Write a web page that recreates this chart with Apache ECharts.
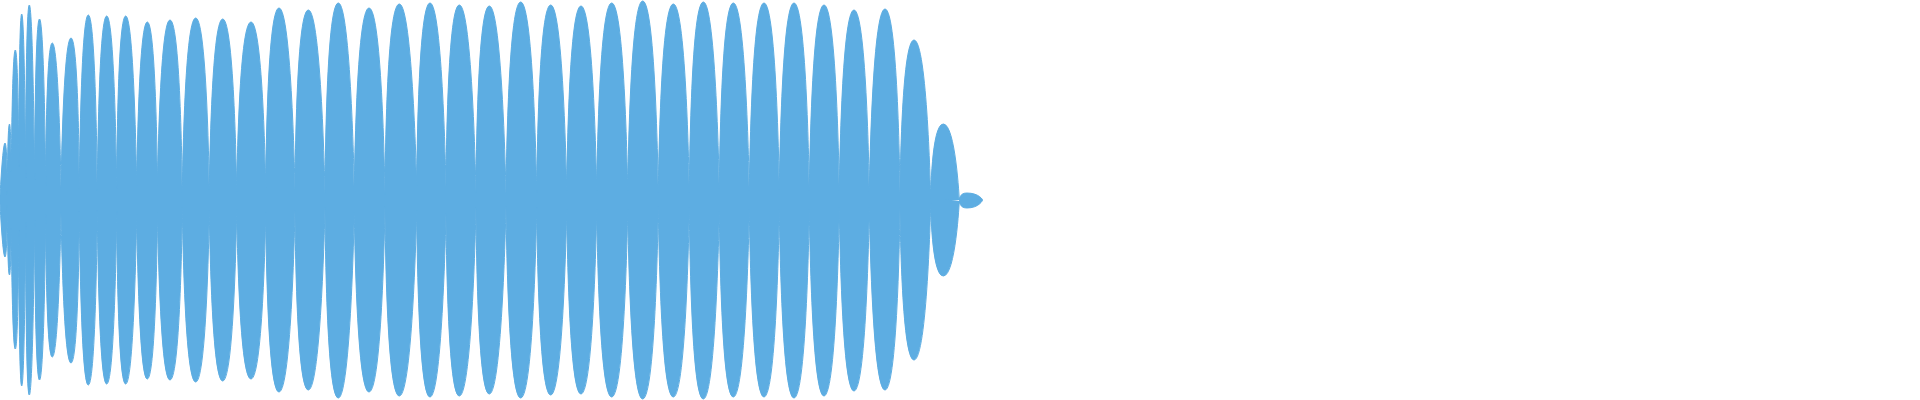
<!DOCTYPE html>
<html>
<head>
<meta charset="utf-8">
<script src="https://cdn.jsdelivr.net/npm/echarts@6/dist/echarts.min.js"></script>
<style>
html,body{margin:0;padding:0;background:#ffffff;}
#chart{width:1920px;height:400px;}
</style>
</head>
<body>
<div id="chart"></div>
<script>
// Boundaries (near-silent points) between the lobes of the waveform envelope
const pinchX = [0, 7.3, 11.3, 18.7, 25.6, 34.6, 45.7, 61, 79.3, 97.3, 116.7, 136.7, 157.5, 182.3, 209.3, 236.7, 265.7, 295, 325, 354.3, 385, 416.7, 446, 476, 506, 536.7, 566.7, 596.7, 627.7, 658.3, 689.3, 719.3, 749.3, 779.3, 809.3, 839.3, 869.3, 900, 930.7, 959.3, 982.7];
// Position of each lobe's peak
const peakX = [5, 9.5, 15.3, 21.7, 29.3, 39.5, 52.3, 71, 88.3, 106.7, 125.7, 147.3, 170, 195.7, 222.7, 251, 279, 308.3, 338.3, 369, 399.3, 430, 459.3, 489.3, 520.7, 550.7, 581, 611.7, 642.7, 673.3, 703.3, 733.3, 764, 794, 824, 854, 885, 914, 943.3, 966.7];
// Upper envelope: peak values and values at the boundaries
const upperPeak = [57, 76, 150, 186, 195, 181, 157, 162, 185, 184, 184, 178, 180, 182, 181, 178, 192, 190, 197, 192, 196, 197, 195, 194, 198, 195, 194, 197, 199, 196, 198, 197, 197, 197, 195, 190, 191, 160, 76, 7];
const upperFloor = [3, 5, 28, 33, 22, 20, 14, 12, 11, 9, 11, 14, 14, 7, 10, 8, 12, 10, 7, 13, 5, 14, 13, 7, 7, 7, 9, 9, 9, 7, 7, 11, 9, 10, 9, 9, 8, 6, 1, 0, 0];
// Lower envelope: peak values and values at the boundaries
const lowerPeak = [-57, -75, -149, -186, -195, -180, -157, -163, -185, -184, -184, -179, -180, -182, -181, -179, -192, -190, -198, -192, -196, -197, -196, -194, -198, -195, -194, -197, -199, -197, -199, -197, -197, -198, -196, -191, -190, -160, -76, -8];
const lowerFloor = [-3, -5, -28, -30, -22, -20, -14, -12, -11, -10, -11, -14, -12, -7, -10, -9, -12, -10, -7, -12, -6, -10, -13, -7, -6, -7, -9, -9, -9, -6, -7, -11, -9, -9, -9, -7, -7, -7, -3, -1, 0];

const timeMax = 1920;
const ampMax = 200;
const color = '#5dade2';

function lobes(peaks, floors) {
  const pts = [];
  for (let i = 0; i < peakX.length; i++) {
    pts.push([pinchX[i], floors[i]]);
    pts.push([peakX[i], peaks[i]]);
    pts.push([pinchX[i + 1], floors[i + 1]]);
    pts.push([pinchX[i + 1], '-']);
  }
  return pts;
}

function envSeries(name, data, origin) {
  return {
    name: name,
    type: 'line',
    data: data,
    smooth: 0.85,
    symbol: 'none',
    showSymbol: false,
    connectNulls: false,
    silent: true,
    animation: false,
    lineStyle: { width: 1, color: color },
    areaStyle: { color: color, opacity: 1, origin: origin }
  };
}

const chart = echarts.init(document.getElementById('chart'), null, { renderer: 'canvas' });
chart.setOption({
  animation: false,
  backgroundColor: '#ffffff',
  grid: { left: 0, right: 0, top: 0, bottom: 0, containLabel: false },
  xAxis: { type: 'value', min: 0, max: timeMax, show: false },
  yAxis: { type: 'value', min: -ampMax, max: ampMax, show: false },
  series: [
    envSeries('upper', lobes(upperPeak, upperFloor), -1),
    envSeries('lower', lobes(lowerPeak, lowerFloor), 1)
  ]
});
</script>
</body>
</html>
